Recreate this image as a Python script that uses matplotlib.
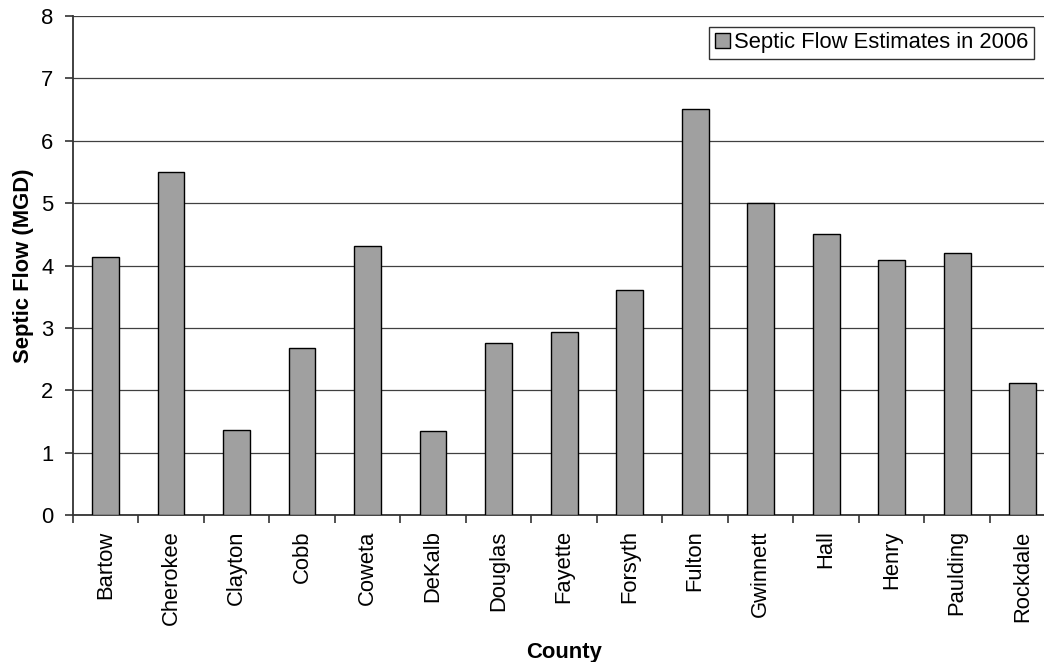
""" Bar chart of septic flow estimates by county in 2006. """

import matplotlib
matplotlib.use("Agg")
import matplotlib.pyplot as plt
import numpy as np

counties = ["Bartow", "Cherokee", "Clayton", "Cobb", "Coweta", "DeKalb", "Douglas",
            "Fayette", "Forsyth", "Fulton", "Gwinnett", "Hall", "Henry", "Paulding",
            "Rockdale"]
flow_2006 = [4.14, 5.50, 1.37, 2.68, 4.31, 1.35, 2.76, 2.93, 3.61, 6.51, 5.00,
             4.50, 4.09, 4.20, 2.12]
y_ticks = [0, 1, 2, 3, 4, 5, 6, 7, 8]

plt.rcParams['font.family'] = ['Liberation Sans', 'DejaVu Sans']
FS = 15.8


def main():
    W, H = 1044, 662
    fig = plt.figure(figsize=(W / 100, H / 100), dpi=100)
    # axes runs past the right edge, like the cropped original
    left, right, top, bottom = 72.7, 1055.5, 16, 515
    ax = fig.add_axes([left / W, 1 - bottom / H, (right - left) / W, (bottom - top) / H])

    x = np.arange(len(counties))
    ax.bar(x, flow_2006, width=0.41, color="#a0a0a0", edgecolor="black",
           linewidth=1.0, label="Septic Flow Estimates in 2006", zorder=3)

    ax.set_xlim(-0.5, len(counties) - 0.5)
    ax.set_ylim(0, 8)
    ax.set_yticks(y_ticks)
    ax.yaxis.grid(True, color="#404040", linewidth=0.9, zorder=0)
    ax.set_axisbelow(True)

    ax.set_xticks(x)
    ax.set_xticklabels(counties, rotation=90, fontsize=FS)
    ax.set_xticks(np.arange(len(counties) + 1) - 0.5, minor=True)
    ax.tick_params(axis="x", which="major", length=0, pad=11)
    ax.tick_params(axis="x", which="minor", length=6, width=1.2, color="#333333")
    ax.tick_params(axis="y", length=6, width=1.2, color="#333333", labelsize=FS, pad=8)

    for side in ("top", "right"):
        ax.spines[side].set_visible(False)
    for side in ("left", "bottom"):
        ax.spines[side].set_color("#333333")
        ax.spines[side].set_linewidth(1.3)

    ax.set_xlabel("County", fontsize=FS, fontweight="bold", labelpad=12)
    ax.set_ylabel("Septic Flow (MGD)", fontsize=FS, fontweight="bold", labelpad=5)

    leg = ax.legend(loc="upper right", bbox_to_anchor=(1034.3 / W, 1 - 26.7 / H),
                    bbox_transform=fig.transFigure, borderaxespad=0, fontsize=FS,
                    fancybox=False, frameon=True, handlelength=0.7, handleheight=0.7,
                    handletextpad=0.2, borderpad=0.25)
    leg.get_frame().set_edgecolor("black")
    leg.get_frame().set_linewidth(1.0)

    fig.savefig("out.png", dpi=100)


if __name__ == "__main__":
    main()
